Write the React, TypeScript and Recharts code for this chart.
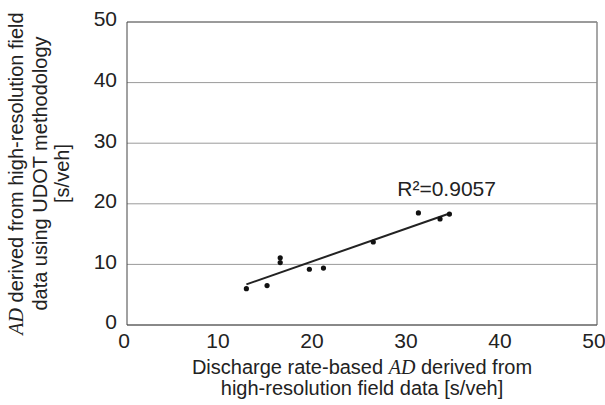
import React from 'react';
import { ScatterChart, Scatter, XAxis, YAxis, CartesianGrid, ReferenceLine, ReferenceDot } from 'recharts';

const xTicks = [0, 10, 20, 30, 40, 50];
const yTicks = [0, 10, 20, 30, 40, 50];
const dischargeAD = [12.7, 14.9, 16.3, 16.3, 19.4, 20.9, 26.2, 31.0, 33.3, 34.3];
const udotAD = [6.0, 6.5, 11.1, 10.3, 9.2, 9.4, 13.7, 18.5, 17.5, 18.3];
const trendX = [12.7, 34.3];
const trendY = [6.7, 18.4];
const r2Text = 'R²=0.9057';
const r2Pos = { x: 34.0, y: 22.6 };

const points = dischargeAD.map((x, i) => ({ x, y: udotAD[i] }));
const trend = trendX.map((x, i) => ({ x, y: trendY[i] }));

const FONT = '"Liberation Sans", Arial, sans-serif';
const SERIF = '"Liberation Serif", "Times New Roman", serif';
const TEXT = '#222';

const XTitle = (props: any) => {
  const vb = props.viewBox || {};
  const cx = vb.x + vb.width / 2;
  return (
    <g fontFamily={FONT} fontSize={20} fill={TEXT}>
      <text x={cx} y={vb.y + 49} textAnchor="middle">
        Discharge rate-based <tspan fontFamily={SERIF} fontStyle="italic">AD</tspan> derived from
      </text>
      <text x={cx} y={vb.y + 70} textAnchor="middle">
        high-resolution field data [s/veh]
      </text>
    </g>
  );
};

const YTitle = (props: any) => {
  const vb = props.viewBox || {};
  const cy = vb.y + vb.height / 2;
  const xs = [16, 40, 62];
  return (
    <g fontFamily={FONT} fontSize={20} fill={TEXT}>
      <text x={xs[0]} y={cy} textAnchor="middle" dominantBaseline="central" transform={`rotate(-90 ${xs[0]} ${cy})`}>
        <tspan fontFamily={SERIF} fontStyle="italic">AD</tspan> derived from high-resolution field
      </text>
      <text x={xs[1]} y={cy} textAnchor="middle" dominantBaseline="central" transform={`rotate(-90 ${xs[1]} ${cy})`}>
        data using UDOT methodology
      </text>
      <text x={xs[2]} y={cy} textAnchor="middle" dominantBaseline="central" transform={`rotate(-90 ${xs[2]} ${cy})`}>
        [s/veh]
      </text>
    </g>
  );
};

const R2Label = (props: any) => {
  const vb = props.viewBox || {};
  const cx = vb.x + (vb.width || 0) / 2;
  const cy = vb.y + (vb.height || 0) / 2;
  return (
    <text x={cx} y={cy} textAnchor="middle" dominantBaseline="central" fontFamily={FONT} fontSize={21} fill={TEXT}>
      {r2Text}
    </text>
  );
};

const Dot = (props: any) => <circle cx={props.cx} cy={props.cy} r={2.6} fill="#111" />;
const NoDot = () => <g />;

export default function App() {
  return (
    <div style={{ position: 'absolute', left: 0, top: 0, background: '#fff' }}>
      <ScatterChart width={605} height={405} margin={{ top: 22, right: 8, bottom: 0, left: 0 }}>
        <CartesianGrid vertical={false} stroke="#9a9a9a" strokeWidth={1} />
        <XAxis
          type="number"
          dataKey="x"
          domain={[0, 50]}
          ticks={xTicks}
          interval={0}
          height={80}
          tickLine={false}
          axisLine={{ stroke: '#444', strokeWidth: 1 }}
          tick={{ fontFamily: FONT, fontSize: 21, fill: TEXT, dx: -3 }}
          label={{ content: XTitle }}
        />
        <YAxis
          type="number"
          dataKey="y"
          domain={[0, 50]}
          ticks={yTicks}
          interval={0}
          width={127}
          tickLine={false}
          tickMargin={4}
          axisLine={{ stroke: '#444', strokeWidth: 1 }}
          tick={{ fontFamily: FONT, fontSize: 21, fill: TEXT, dy: -3 }}
          label={{ content: YTitle }}
        />
        <ReferenceLine x={50} stroke="#8a8a8a" strokeWidth={1.5} />
        <ReferenceLine y={50} stroke="#8a8a8a" strokeWidth={1.5} />
        <Scatter data={trend} line={{ stroke: '#222', strokeWidth: 2 }} shape={NoDot} isAnimationActive={false} />
        <Scatter data={points} shape={Dot} isAnimationActive={false} />
        <ReferenceDot x={r2Pos.x} y={r2Pos.y} r={0} stroke="none" fill="none" label={{ content: R2Label }} />
      </ScatterChart>
    </div>
  );
}
